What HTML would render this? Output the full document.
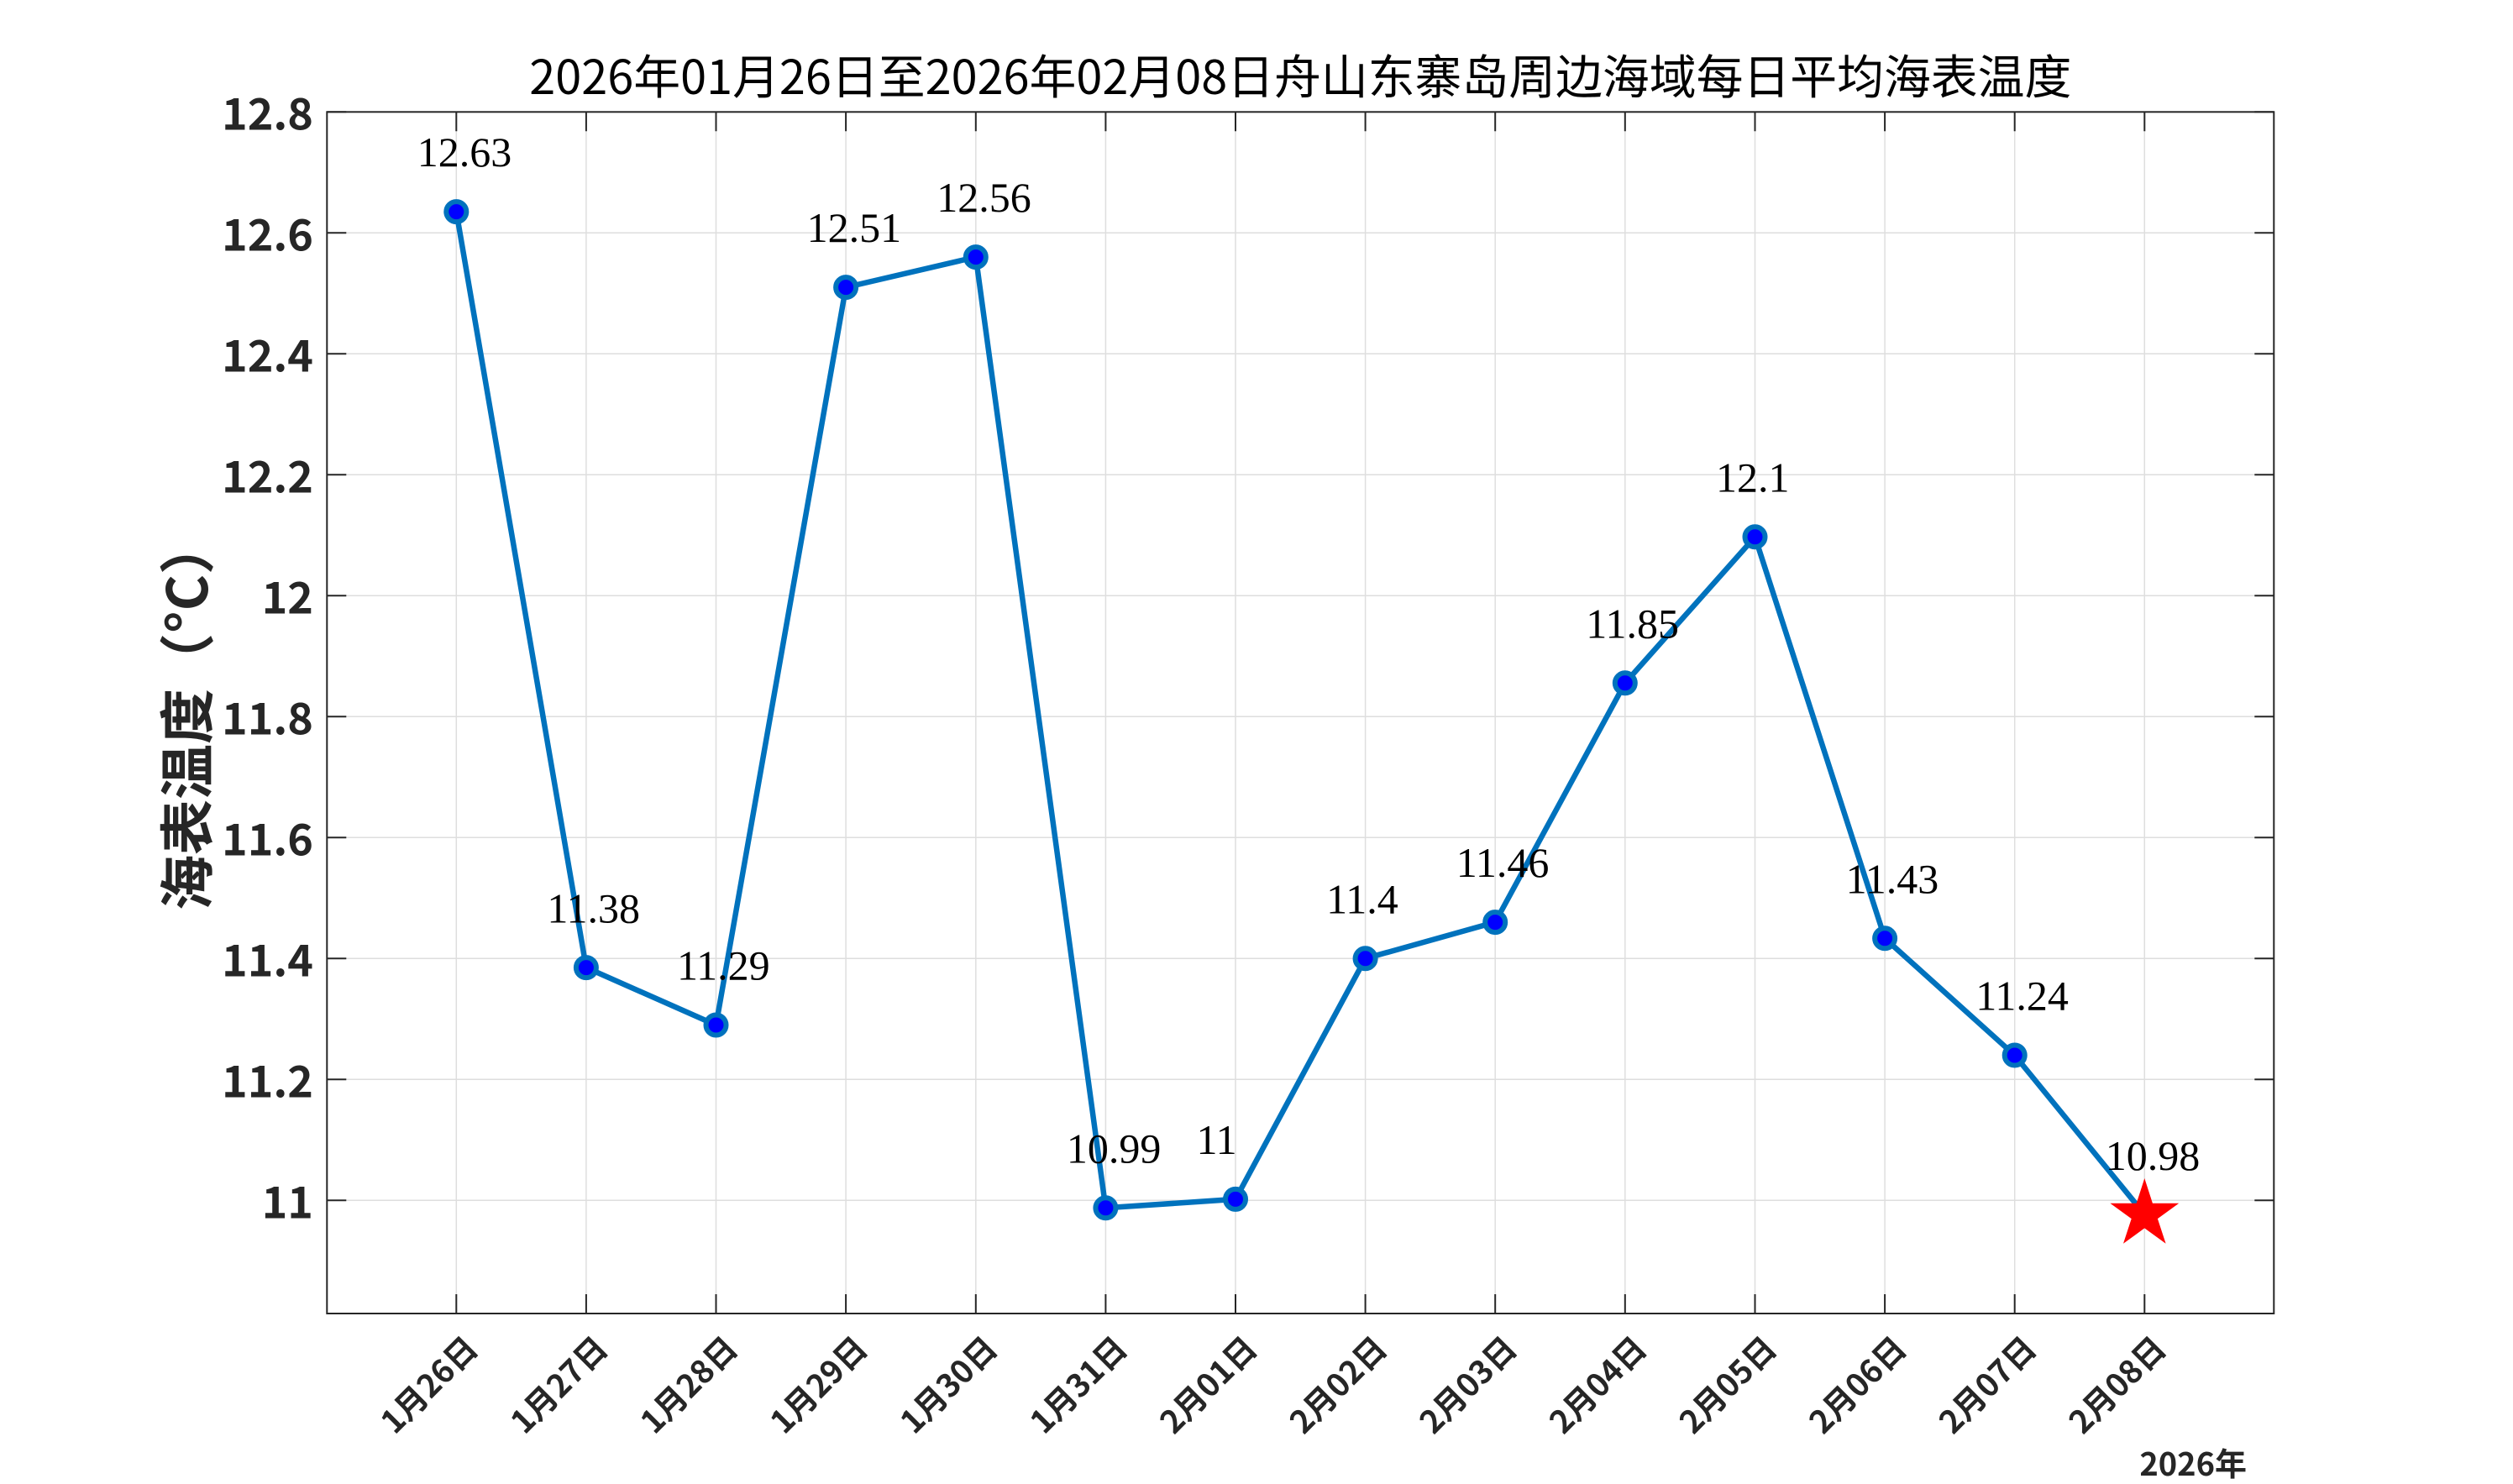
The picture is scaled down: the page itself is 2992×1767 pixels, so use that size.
<!DOCTYPE html>
<html><head><meta charset="utf-8"><style>
html,body{margin:0;padding:0;background:#fff;}
svg{display:block;}
.yt{font-family:"Noto Sans CJK SC","Liberation Sans",sans-serif;font-weight:bold;font-size:52px;fill:#262626;text-anchor:end;}
.xt{font-family:"Noto Sans CJK SC","Liberation Sans",sans-serif;font-weight:bold;font-size:38px;fill:#262626;text-anchor:end;}
.dl{font-family:"Liberation Serif","Times New Roman",serif;font-size:50px;fill:#000;}
</style></head><body>
<svg width="2992" height="1767" viewBox="0 0 2992 1767" xmlns="http://www.w3.org/2000/svg">
<rect width="2992" height="1767" fill="#fff"/>
<!-- grid -->
<g stroke="#dedede" stroke-width="1.5">
<line x1="389.3" y1="277.3" x2="2707.3" y2="277.3"/>
<line x1="389.3" y1="421.3" x2="2707.3" y2="421.3"/>
<line x1="389.3" y1="565.3" x2="2707.3" y2="565.3"/>
<line x1="389.3" y1="709.3" x2="2707.3" y2="709.3"/>
<line x1="389.3" y1="853.3" x2="2707.3" y2="853.3"/>
<line x1="389.3" y1="997.3" x2="2707.3" y2="997.3"/>
<line x1="389.3" y1="1141.3" x2="2707.3" y2="1141.3"/>
<line x1="389.3" y1="1285.3" x2="2707.3" y2="1285.3"/>
<line x1="389.3" y1="1429.3" x2="2707.3" y2="1429.3"/>
<line x1="543.3" y1="133.3" x2="543.3" y2="1564"/>
<line x1="697.9" y1="133.3" x2="697.9" y2="1564"/>
<line x1="852.5" y1="133.3" x2="852.5" y2="1564"/>
<line x1="1007.1" y1="133.3" x2="1007.1" y2="1564"/>
<line x1="1161.8" y1="133.3" x2="1161.8" y2="1564"/>
<line x1="1316.4" y1="133.3" x2="1316.4" y2="1564"/>
<line x1="1471.0" y1="133.3" x2="1471.0" y2="1564"/>
<line x1="1625.6" y1="133.3" x2="1625.6" y2="1564"/>
<line x1="1780.2" y1="133.3" x2="1780.2" y2="1564"/>
<line x1="1934.8" y1="133.3" x2="1934.8" y2="1564"/>
<line x1="2089.5" y1="133.3" x2="2089.5" y2="1564"/>
<line x1="2244.1" y1="133.3" x2="2244.1" y2="1564"/>
<line x1="2398.7" y1="133.3" x2="2398.7" y2="1564"/>
<line x1="2553.3" y1="133.3" x2="2553.3" y2="1564"/>
</g>
<!-- axes box -->
<rect x="389.3" y="133.3" width="2318" height="1430.7" fill="none" stroke="#262626" stroke-width="2"/>
<!-- ticks -->
<g stroke="#262626" stroke-width="2">
<path d="M389.3 133.3h23M389.3 277.3h23M389.3 421.3h23M389.3 565.3h23M389.3 709.3h23M389.3 853.3h23M389.3 997.3h23M389.3 1141.3h23M389.3 1285.3h23M389.3 1429.3h23"/>
<path d="M2707.3 133.3h-23M2707.3 277.3h-23M2707.3 421.3h-23M2707.3 565.3h-23M2707.3 709.3h-23M2707.3 853.3h-23M2707.3 997.3h-23M2707.3 1141.3h-23M2707.3 1285.3h-23M2707.3 1429.3h-23"/>
<path d="M543.3 1564v-23M697.9 1564v-23M852.5 1564v-23M1007.1 1564v-23M1161.8 1564v-23M1316.4 1564v-23M1471.0 1564v-23M1625.6 1564v-23M1780.2 1564v-23M1934.8 1564v-23M2089.5 1564v-23M2244.1 1564v-23M2398.7 1564v-23M2553.3 1564v-23"/>
<path d="M543.3 133.3v23M697.9 133.3v23M852.5 133.3v23M1007.1 133.3v23M1161.8 133.3v23M1316.4 133.3v23M1471.0 133.3v23M1625.6 133.3v23M1780.2 133.3v23M1934.8 133.3v23M2089.5 133.3v23M2244.1 133.3v23M2398.7 133.3v23M2553.3 133.3v23"/>
</g>
<!-- y tick labels -->
<text class="yt" x="373" y="154.5">12.8</text>
<text class="yt" x="373" y="298.5">12.6</text>
<text class="yt" x="373" y="442.5">12.4</text>
<text class="yt" x="373" y="586.5">12.2</text>
<text class="yt" x="373" y="730.5">12</text>
<text class="yt" x="373" y="874.5">11.8</text>
<text class="yt" x="373" y="1018.5">11.6</text>
<text class="yt" x="373" y="1162.5">11.4</text>
<text class="yt" x="373" y="1306.5">11.2</text>
<text class="yt" x="373" y="1450.5">11</text>
<!-- x tick labels -->
<text class="xt" transform="translate(571.3,1608) rotate(-45)">1月26日</text>
<text class="xt" transform="translate(725.9,1608) rotate(-45)">1月27日</text>
<text class="xt" transform="translate(880.5,1608) rotate(-45)">1月28日</text>
<text class="xt" transform="translate(1035.1,1608) rotate(-45)">1月29日</text>
<text class="xt" transform="translate(1189.8,1608) rotate(-45)">1月30日</text>
<text class="xt" transform="translate(1344.4,1608) rotate(-45)">1月31日</text>
<text class="xt" transform="translate(1499.0,1608) rotate(-45)">2月01日</text>
<text class="xt" transform="translate(1653.6,1608) rotate(-45)">2月02日</text>
<text class="xt" transform="translate(1808.2,1608) rotate(-45)">2月03日</text>
<text class="xt" transform="translate(1962.8,1608) rotate(-45)">2月04日</text>
<text class="xt" transform="translate(2117.5,1608) rotate(-45)">2月05日</text>
<text class="xt" transform="translate(2272.1,1608) rotate(-45)">2月06日</text>
<text class="xt" transform="translate(2426.7,1608) rotate(-45)">2月07日</text>
<text class="xt" transform="translate(2581.3,1608) rotate(-45)">2月08日</text>
<text class="xt" x="2675" y="1757">2026年</text>
<!-- title -->
<text x="1548.3" y="112" text-anchor="middle" textLength="1836" lengthAdjust="spacingAndGlyphs" style="font-family:'Noto Sans CJK SC','Liberation Sans',sans-serif;font-size:56px;fill:#000;">2026年01月26日至2026年02月08日舟山东寨岛周边海域每日平均海表温度</text>
<!-- y label -->
<text transform="translate(247,1084) rotate(-90)" style="font-family:'Noto Sans CJK SC','Liberation Sans',sans-serif;font-weight:bold;font-size:66px;fill:#262626;">海表温度（°C）</text>
<!-- series line -->
<polyline fill="none" stroke="#0072BD" stroke-width="6.5" stroke-linejoin="round" points="543.3,252.1 697.9,1152.1 852.5,1220.5 1007.1,342.1 1161.8,306.1 1316.4,1438.3 1471.0,1427.9 1625.6,1141.3 1780.2,1098.1 1934.8,813.3 2089.5,639.3 2244.1,1117.3 2398.7,1256.5 2553.3,1446"/>
<!-- markers -->
<g fill="#0000FF" stroke="#0072BD" stroke-width="6">
<circle cx="543.3" cy="252.1" r="12"/>
<circle cx="697.9" cy="1152.1" r="12"/>
<circle cx="852.5" cy="1220.5" r="12"/>
<circle cx="1007.1" cy="342.1" r="12"/>
<circle cx="1161.8" cy="306.1" r="12"/>
<circle cx="1316.4" cy="1438.3" r="12"/>
<circle cx="1471.0" cy="1427.9" r="12"/>
<circle cx="1625.6" cy="1141.3" r="12"/>
<circle cx="1780.2" cy="1098.1" r="12"/>
<circle cx="1934.8" cy="813.3" r="12"/>
<circle cx="2089.5" cy="639.3" r="12"/>
<circle cx="2244.1" cy="1117.3" r="12"/>
<circle cx="2398.7" cy="1256.5" r="12"/>
</g>
<!-- star -->
<polygon fill="#FF0000" points="2553.3,1403 2562.9,1432.7 2594.2,1432.7 2568.9,1451.1 2578.6,1480.8 2553.3,1462.4 2528,1480.8 2537.7,1451.1 2512.4,1432.7 2543.7,1432.7"/>
<!-- data labels -->
<text class="dl" x="496.8" y="198.1">12.63</text>
<text class="dl" x="651.4" y="1098.3">11.38</text>
<text class="dl" x="806.0" y="1166.5">11.29</text>
<text class="dl" x="960.6" y="288.1">12.51</text>
<text class="dl" x="1115.3" y="252.1">12.56</text>
<text class="dl" x="1269.9" y="1384.3">10.99</text>
<text class="dl" x="1424.5" y="1373.9">11</text>
<text class="dl" x="1579.1" y="1087.3">11.4</text>
<text class="dl" x="1733.7" y="1044.1">11.46</text>
<text class="dl" x="1888.3" y="759.3">11.85</text>
<text class="dl" x="2043.0" y="585.3">12.1</text>
<text class="dl" x="2197.6" y="1063.3">11.43</text>
<text class="dl" x="2352.2" y="1202.5">11.24</text>
<text class="dl" x="2506.8" y="1393">10.98</text>
</svg>
</body></html>
